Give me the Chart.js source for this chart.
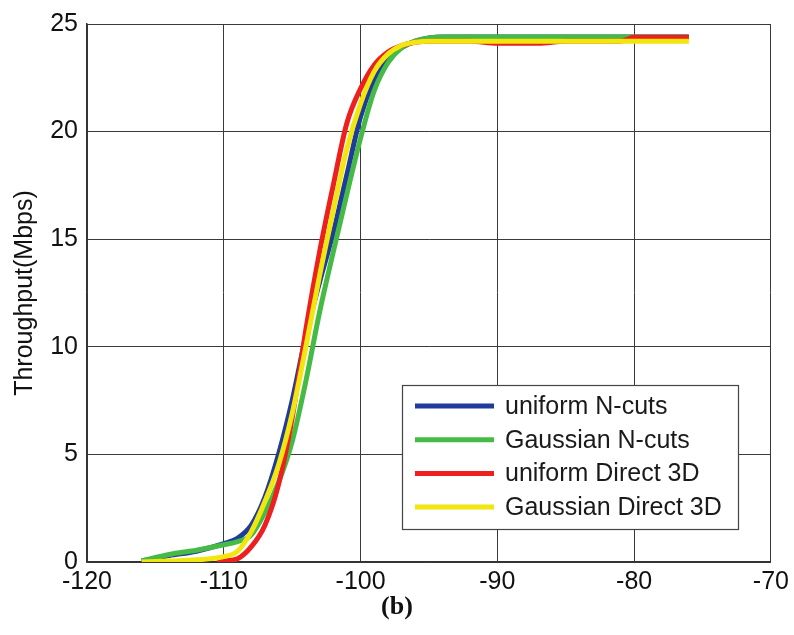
<!DOCTYPE html>
<html>
<head>
<meta charset="utf-8">
<script src="https://cdn.jsdelivr.net/npm/chart.js@4.4.0/dist/chart.umd.min.js"></script>
<style>
    html, body { margin: 0; padding: 0; background: #fff; }
</style>
</head>
<body>
<canvas id="throughputChart" width="794" height="635"></canvas>
<script>
// Received power (x) vs throughput in Mbps (y)
const uniformNcutsX = [-116, -114, -112, -110, -109, -108, -107, -106, -105, -104, -103, -102, -101, -100, -99, -98, -97, -96, -95, -94, -90, -85, -80, -76];
const uniformNcutsY = [0.05, 0.3, 0.5, 0.85, 1.1, 1.7, 3.0, 5.0, 7.5, 10.5, 13.0, 15.3, 18.0, 20.7, 22.4, 23.4, 23.9, 24.2, 24.35, 24.4, 24.4, 24.4, 24.4, 24.4];

const gaussianNcutsX = [-116, -114, -112, -110, -109, -108, -107, -106, -105, -104, -103, -102, -101, -100, -99, -98, -97, -96, -95, -94, -90, -85, -80, -76];
const gaussianNcutsY = [0.05, 0.35, 0.55, 0.8, 0.95, 1.25, 2.3, 3.7, 5.6, 8.4, 11.6, 14.4, 17.1, 19.7, 21.9, 23.2, 23.9, 24.2, 24.35, 24.4, 24.4, 24.4, 24.4, 24.4];

const uniformDirectX = [-110.5, -110, -109, -108, -107, -106, -105, -104, -103, -102, -101, -100, -99, -98, -97, -96, -95, -92, -90, -87, -85, -81, -80, -76];
const uniformDirectY = [0, 0.05, 0.15, 0.7, 1.7, 3.6, 6.7, 10.8, 14.4, 17.5, 20.4, 22.0, 23.1, 23.7, 24.0, 24.15, 24.2, 24.2, 24.1, 24.1, 24.2, 24.2, 24.38, 24.38];

const gaussianDirectX = [-116, -114, -112, -110, -109, -108, -107, -106, -105, -104, -103, -102, -101, -100, -99, -98, -97, -96, -95, -90, -85, -80, -76];
const gaussianDirectY = [0.0, 0.05, 0.1, 0.25, 0.5, 1.4, 2.8, 4.5, 6.9, 10.0, 13.3, 16.3, 19.2, 21.3, 22.8, 23.6, 24.0, 24.15, 24.2, 24.2, 24.2, 24.2, 24.2];

const seriesLabels = ['uniform N-cuts', 'Gaussian N-cuts', 'uniform Direct 3D', 'Gaussian Direct 3D'];
const seriesColors = ['#1f3c9c', '#45bb45', '#ee1f1f', '#f2e60f'];

const xTicks = [-120, -110, -100, -90, -80, -70];
const yTicks = [0, 5, 10, 15, 20, 25];

function toPoints(xs, ys) {
    return xs.map((x, i) => ({ x: x, y: ys[i] }));
}

const allSeries = [
    toPoints(uniformNcutsX, uniformNcutsY),
    toPoints(gaussianNcutsX, gaussianNcutsY),
    toPoints(uniformDirectX, uniformDirectY),
    toPoints(gaussianDirectX, gaussianDirectY)
];

// MATLAB draws later series on top, so the last one gets the lowest order
const datasets = allSeries.map((pts, i) => ({
    label: seriesLabels[i],
    data: pts,
    borderColor: seriesColors[i],
    backgroundColor: seriesColors[i],
    borderWidth: 5,
    pointRadius: 0,
    cubicInterpolationMode: 'monotone',
    borderJoinStyle: 'round',
    order: allSeries.length - i
}));

const FONT = '"Liberation Sans", Arial, sans-serif';

// Legend box inside the plot, like the MATLAB one
const boxLegend = {
    id: 'boxLegend',
    afterDatasetsDraw(chart) {
        const ctx = chart.ctx;
        const left = 402, top = 385, right = 738, bottom = 529;
        ctx.save();
        ctx.fillStyle = '#fff';
        ctx.fillRect(left, top, right - left, bottom - top);
        ctx.strokeStyle = '#444';
        ctx.lineWidth = 1.2;
        ctx.strokeRect(left + 0.5, top + 0.5, right - left, bottom - top);
        ctx.font = '25px ' + FONT;
        ctx.textBaseline = 'middle';
        ctx.textAlign = 'left';
        seriesLabels.forEach((label, i) => {
            const y = 406 + i * 33.7;
            ctx.strokeStyle = seriesColors[i];
            ctx.lineWidth = 5;
            ctx.beginPath();
            ctx.moveTo(415, y);
            ctx.lineTo(494, y);
            ctx.stroke();
            ctx.fillStyle = '#1a1a1a';
            ctx.fillText(label, 505, y + 1);
        });
        ctx.restore();
    },
    afterDraw(chart) {
        const ctx = chart.ctx;
        ctx.save();
        ctx.font = 'bold 26px "Liberation Serif", "Times New Roman", serif';
        ctx.fillStyle = '#111';
        ctx.textAlign = 'center';
        ctx.textBaseline = 'middle';
        ctx.fillText('(b)', 397, 607);
        ctx.restore();
    }
};

const chartCtx = document.getElementById('throughputChart');

const myChart = new Chart(chartCtx, {
    type: 'line',
    data: { datasets: datasets },
    plugins: [boxLegend],
    options: {
        responsive: false,
        animation: false,
        layout: {
            autoPadding: false,
            padding: { left: 0, right: 22, top: 23, bottom: 0 }
        },
        plugins: {
            legend: { display: false },
            tooltip: { enabled: false }
        },
        scales: {
            x: {
                type: 'linear',
                min: -120,
                max: -70,
                afterBuildTicks: (scale) => { scale.ticks = xTicks.map(v => ({ value: v })); },
                afterFit: (scale) => { scale.height = 73; },
                ticks: {
                    color: '#111',
                    padding: 5,
                    maxRotation: 0,
                    font: { family: FONT, size: 25 }
                },
                grid: { color: '#3a3a3a', lineWidth: 1, drawTicks: false },
                border: { display: true, color: '#333', width: 1.5 }
            },
            y: {
                min: 0,
                max: 25,
                afterBuildTicks: (scale) => { scale.ticks = yTicks.map(v => ({ value: v })); },
                afterFit: (scale) => { scale.width = 87; },
                title: {
                    display: true,
                    text: 'Throughput(Mbps)',
                    color: '#111',
                    padding: { top: 10, bottom: 0 },
                    font: { family: FONT, size: 25 }
                },
                ticks: {
                    color: '#111',
                    padding: 9,
                    font: { family: FONT, size: 25 }
                },
                grid: { color: '#3a3a3a', lineWidth: 1, drawTicks: false },
                border: { display: true, color: '#333', width: 1.5 }
            }
        }
    }
});
</script>
</body>
</html>
